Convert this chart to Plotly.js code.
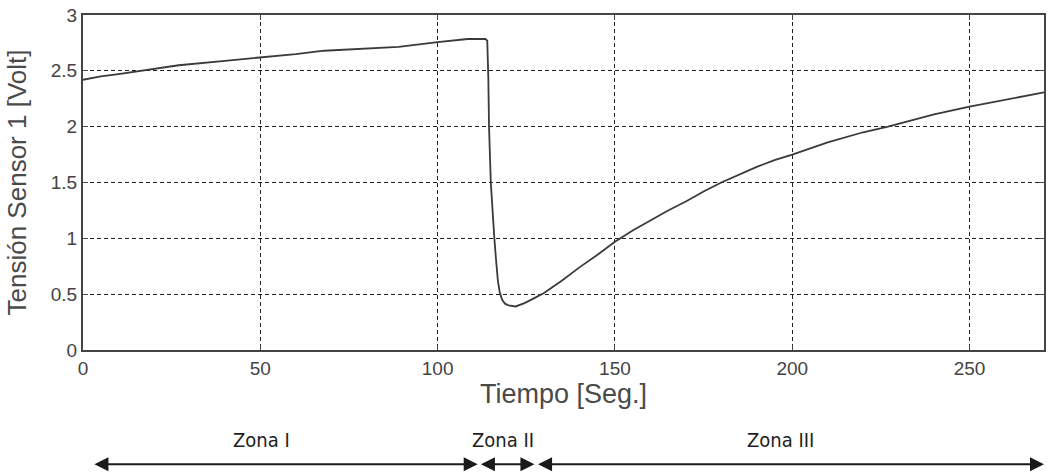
<!DOCTYPE html>
<html>
<head>
<meta charset="utf-8">
<script src="https://cdn.plot.ly/plotly-3.0.1.min.js"></script>
<style>html,body{margin:0;padding:0;background:#fff;}#chart{width:1051px;height:473px;}</style>
</head>
<body>
<div id="chart"></div>
<script>
// Time (s) and sensor 1 voltage (V)
var tiempo = [0, 5, 10, 16, 27, 40, 50, 60, 68, 80, 89, 100, 105, 108.5, 113.5, 114, 114.3, 114.5, 115, 115.5, 116, 116.5, 117, 117.5, 118.2, 119, 120, 122, 124.5, 127, 130, 135, 140, 145, 150, 155, 160, 165, 170, 175, 180, 185, 190, 195, 200, 210, 220, 227, 235, 240, 250, 260, 271];
var tension = [2.42, 2.45, 2.47, 2.50, 2.55, 2.59, 2.617, 2.65, 2.68, 2.70, 2.715, 2.757, 2.77, 2.785, 2.785, 2.77, 2.44, 2.0, 1.5, 1.2, 1.0, 0.8, 0.62, 0.52, 0.45, 0.415, 0.40, 0.39, 0.42, 0.46, 0.51, 0.62, 0.74, 0.85, 0.97, 1.07, 1.16, 1.25, 1.33, 1.42, 1.5, 1.57, 1.64, 1.70, 1.75, 1.86, 1.95, 2.0, 2.07, 2.11, 2.18, 2.24, 2.307];

var xTicks = [0, 50, 100, 150, 200, 250];
var yTicks = [0, 0.5, 1, 1.5, 2, 2.5, 3];
var yTickLabels = ['0', '0.5', '1', '1.5', '2', '2.5', '3'];

// Zones along the time axis
var zonaNombres = ['Zona I', 'Zona II', 'Zona III'];
var zonaInicio = [2.8, 111.8, 127.9];
var zonaFin = [111.3, 127.3, 271];
var zonaTextoX = [50.4, 118.3, 196.6];

var trace = {
  x: tiempo, y: tension, type: 'scatter', mode: 'lines',
  line: {color: '#3a3a3a', width: 1.8, shape: 'linear'}, hoverinfo: 'x+y', showlegend: false
};

var ann = [];
for (var i = 0; i < zonaNombres.length; i++) {
  ann.push({
    xref: 'x', yref: 'paper', x: zonaFin[i], y: -0.341,
    axref: 'x', ayref: 'pixel', ax: zonaInicio[i], ay: 0,
    showarrow: true, arrowhead: 2, arrowside: 'end+start', arrowsize: 1.4, arrowwidth: 2,
    arrowcolor: '#1a1a1a', text: ''
  });
  ann.push({
    xref: 'x', yref: 'paper', x: zonaTextoX[i], y: -0.27,
    showarrow: false, text: zonaNombres[i], xanchor: 'center', yanchor: 'middle',
    font: {family: 'DejaVu Sans Condensed, DejaVu Sans', size: 20, color: '#1e1e1e'}
  });
}

var gridDash = '4px,3px';
var layout = {
  width: 1051, height: 473,
  margin: {l: 83, r: 7, t: 15, b: 123},
  paper_bgcolor: '#ffffff', plot_bgcolor: '#ffffff',
  font: {family: 'Liberation Sans, Arial, sans-serif', color: '#444'},
  xaxis: {
    range: [0, 271], tickvals: xTicks, ticktext: xTicks.map(String),
    showgrid: true, gridcolor: '#222', griddash: gridDash, gridwidth: 1,
    zeroline: false, showline: true, linecolor: '#444', linewidth: 2, mirror: 'ticks',
    ticks: 'inside', ticklen: 5, tickcolor: '#444',
    tickfont: {size: 19, color: '#444'},
    title: {text: 'Tiempo [Seg.]', font: {size: 27, color: '#4a4a4a'}, standoff: 4}
  },
  yaxis: {
    range: [0, 3], tickvals: yTicks, ticktext: yTickLabels,
    showgrid: true, gridcolor: '#222', griddash: gridDash, gridwidth: 1,
    zeroline: false, showline: true, linecolor: '#444', linewidth: 2, mirror: 'ticks',
    ticks: 'inside', ticklen: 5, tickcolor: '#444',
    tickfont: {size: 19, color: '#444'},
    title: {text: 'Tensión Sensor 1 [Volt]', font: {size: 26, color: '#4a4a4a'}, standoff: 17}
  },
  annotations: ann
};

Plotly.newPlot('chart', [trace], layout, {staticPlot: true, displayModeBar: false});
</script>
</body>
</html>
